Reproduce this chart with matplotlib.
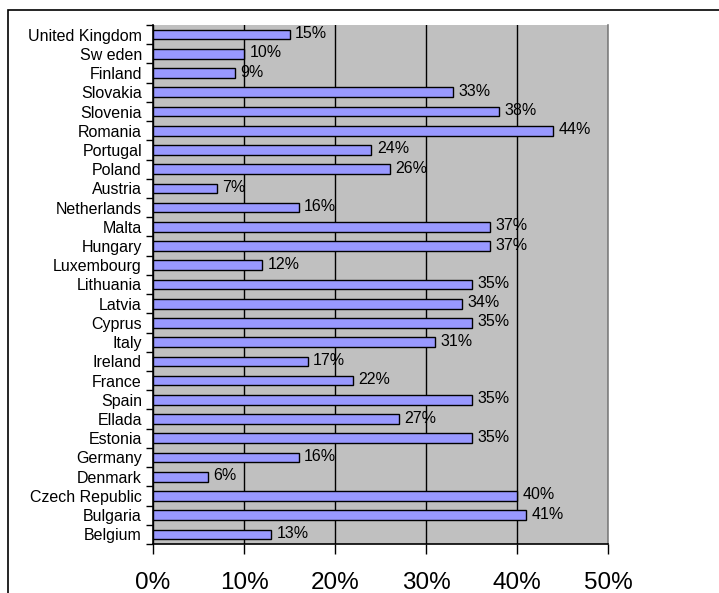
import numpy as np
import matplotlib.pyplot as plt
from matplotlib.patches import Rectangle
from matplotlib.ticker import FixedLocator, NullFormatter

plt.rcParams['font.family'] = ['Liberation Sans', 'DejaVu Sans']

countries = ['Belgium', 'Bulgaria', 'Czech Republic', 'Denmark', 'Germany', 'Estonia',
             'Ellada', 'Spain', 'France', 'Ireland', 'Italy', 'Cyprus', 'Latvia',
             'Lithuania', 'Luxembourg', 'Hungary', 'Malta', 'Netherlands', 'Austria',
             'Poland', 'Portugal', 'Romania', 'Slovenia', 'Slovakia', 'Finland',
             'Sw eden', 'United Kingdom']
values = [13, 41, 40, 6, 16, 35, 27, 35, 22, 17, 31, 35, 34, 35, 12, 37, 37, 16, 7,
          26, 24, 44, 38, 33, 9, 10, 15]
xticks = [0, 10, 20, 30, 40, 50]

W, H = 719, 593
fig = plt.figure(figsize=(W / 100, H / 100), dpi=100)
ax = fig.add_axes([153 / W, 1 - 544 / H, (608 - 153) / W, (544 - 25) / H])

# outer chart border (right and bottom edges fall outside the picture)
fig.patches.append(Rectangle((8 / W, -0.05), 1.0, 1.05 - 10 / H,
                             transform=fig.transFigure, fill=False,
                             edgecolor='black', linewidth=1.2))

ax.set_facecolor('#C0C0C0')
y = np.arange(len(countries))
ax.barh(y, values, height=0.5, color='#9999FF', edgecolor='black', linewidth=1, zorder=3)

for yi, v in zip(y, values):
    ax.text(v + 0.6, yi + 0.05, '%d%%' % v, va='center', ha='left', fontsize=11.5, zorder=4)

ax.set_xlim(0, 50)
ax.set_ylim(-0.5, len(countries) - 0.5)
ax.set_xticks(xticks)
ax.set_xticklabels(['%d%%' % t for t in xticks], fontsize=17.5)
ax.xaxis.grid(True, color='black', linewidth=1, zorder=1)
ax.set_axisbelow(True)

ax.set_yticks(y)
ax.set_yticklabels(countries, fontsize=11.5)
ax.yaxis.set_minor_locator(FixedLocator(np.arange(-0.5, len(countries), 1)))
ax.yaxis.set_minor_formatter(NullFormatter())
ax.tick_params(axis='y', which='major', length=0, pad=8)
ax.tick_params(axis='y', which='minor', length=5, width=1, color='black')
ax.tick_params(axis='x', length=7, width=1, pad=13)

ax.spines['top'].set_visible(False)
ax.spines['right'].set_color('#808080')
ax.spines['right'].set_linewidth(1.2)
for s in ['left', 'bottom']:
    ax.spines[s].set_color('black')
    ax.spines[s].set_linewidth(1.2)

fig.savefig('out.png', dpi=100)
